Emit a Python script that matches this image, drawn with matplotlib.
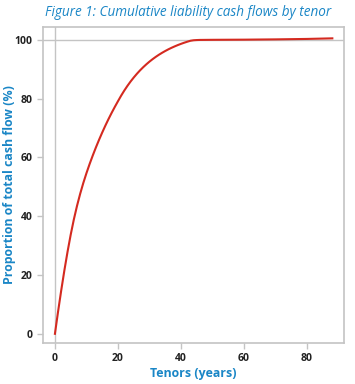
import matplotlib
matplotlib.use("Agg")
from matplotlib import pyplot as plt

# tenor (years) and cumulative share of cash flow (%)
tenors = list(range(0, 47)) + [48, 50, 60, 70, 80, 88]
cumulative = [0, 7.6, 14.8, 21.6, 27.9, 33.7, 38.9, 43.5, 47.6, 51.3,
              54.65, 57.75, 60.65, 63.4, 66.0, 68.47, 70.82, 73.05, 75.17, 77.19,
              79.12, 81.0, 82.74, 84.34, 85.82, 87.18, 88.44, 89.61, 90.68, 91.67,
              92.59, 93.43, 94.21, 94.93, 95.59, 96.2, 96.77, 97.29, 97.77, 98.22,
              98.63, 99.01, 99.36, 99.68, 99.85, 99.92, 99.96, 99.98, 100.0, 100.05,
              100.15, 100.3, 100.5]

xticks = [0, 20, 40, 60, 80]
yticks = [0, 20, 40, 60, 80, 100]

blue = "#1a86c6"
grey = "#c4c4c4"
plt.rcParams['font.family'] = ['Open Sans', 'DejaVu Sans']

fig = plt.figure(figsize=(3.55, 3.84), dpi=100)
ax = fig.add_axes([0.121, 0.107, 0.848, 0.823])

ax.axvline(0, color=grey, lw=1.0, zorder=1)
ax.axhline(100, color=grey, lw=1.0, zorder=1)
ax.plot(tenors, cumulative, color="#d42a20", lw=1.5, zorder=3)

ax.set_xlim(-3.8, 91.7)
ax.set_ylim(-3.1, 104.4)
ax.set_xticks(xticks)
ax.set_yticks(yticks)
for s in ax.spines.values():
    s.set_color(grey)
    s.set_linewidth(1.2)
ax.tick_params(direction="out", length=4, color=grey, width=1.0,
               labelsize=7.5, labelcolor="#222222")
for lab in ax.get_xticklabels() + ax.get_yticklabels():
    lab.set_fontweight("bold")

ax.set_xlabel("Tenors (years)", color=blue, fontsize=8.9, fontweight="bold", labelpad=2)
ax.set_ylabel("Proportion of total cash flow (%)", color=blue, fontsize=8.9,
              fontweight="bold")
ax.yaxis.set_label_coords(-0.09, 0.5)
fig.text(0.529, 0.967, "Figure 1: Cumulative liability cash flows by tenor",
         color=blue, fontsize=9.75, style="italic", ha="center", va="center")

fig.savefig("out.png", dpi=100)
